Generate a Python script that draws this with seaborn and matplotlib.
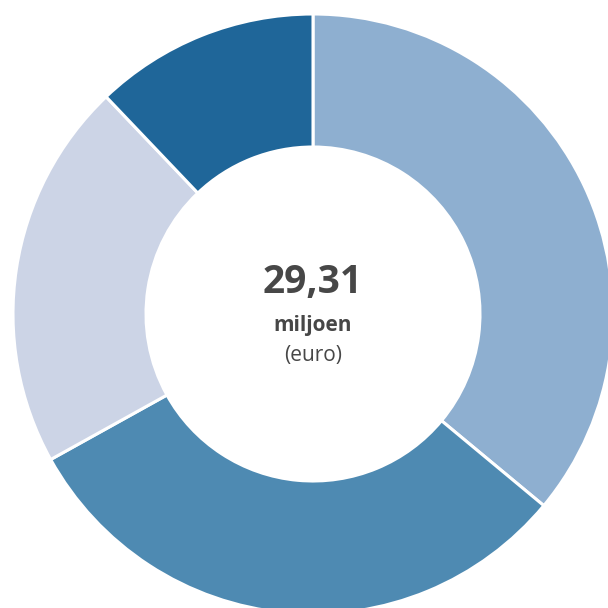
import matplotlib
matplotlib.use("Agg")
import matplotlib.pyplot as plt
import seaborn as sns

# segment values (miljoen euro), read clockwise from 12 o'clock
segments = ["A", "B", "C", "D"]
values = [10.56, 9.06, 6.14, 3.55]
colors = ["#8eafd0", "#4e8ab2", "#ccd4e6", "#1f6699"]
total_label = "29,31"
unit_label = "miljoen"
currency_label = "(euro)"

sns.set_theme(style="white")
plt.rcParams["font.family"] = ["Open Sans", "DejaVu Sans"]

fig = plt.figure(figsize=(6.08, 6.08), dpi=100)
ax = fig.add_axes([0, 0, 1, 1])

cx, cy = 313, 608 - 314
r_out, r_in = 300, 167

ax.pie(values, colors=sns.color_palette(colors), startangle=90, counterclock=False,
       radius=r_out, center=(cx, cy), frame=True,
       wedgeprops=dict(width=r_out - r_in, edgecolor="white", linewidth=2.2))
ax.set_xlim(0, 608)
ax.set_ylim(0, 608)
ax.set_aspect("equal")
ax.axis("off")

txt = "#474747"
ax.text(cx, cy + 31, total_label, ha="center", va="center", fontsize=28,
        fontweight="bold", color=txt)
ax.text(cx, cy - 11, unit_label, ha="center", va="center", fontsize=15,
        fontweight="bold", color=txt)
ax.text(cx, cy - 42, currency_label, ha="center", va="center", fontsize=15,
        fontweight="medium", color=txt)

fig.savefig("out.png", dpi=100)
